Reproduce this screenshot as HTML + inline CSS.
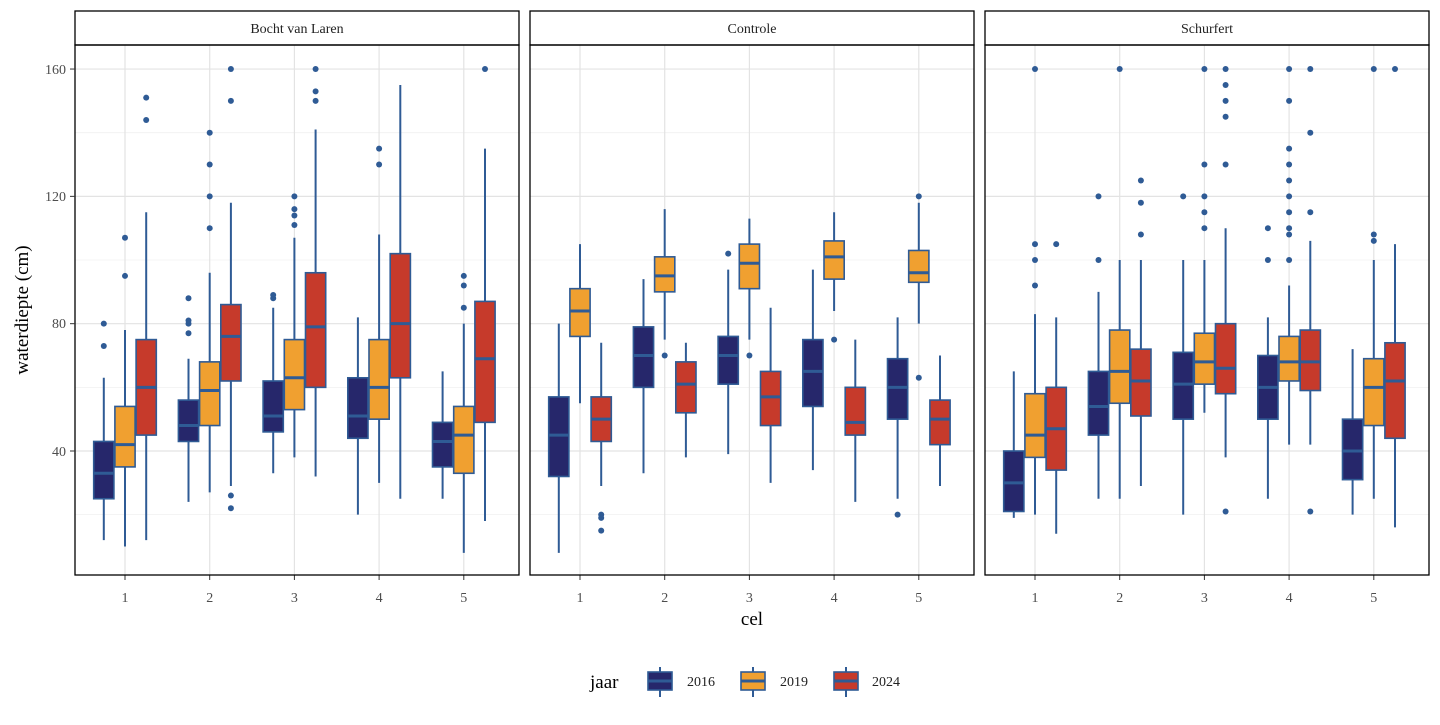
<!DOCTYPE html>
<html><head><meta charset="utf-8"><style>
body{margin:0;background:#fff}
svg text{font-family:"Liberation Serif",serif}
</style></head><body>
<svg id="s" width="1440" height="720" xmlns="http://www.w3.org/2000/svg">
<rect width="1440" height="720" fill="#fff"/>
<g id="grid"></g>
<g id="boxes"></g>
<g id="frames"></g>
<g font-size="14" fill="#222">
<text x="297" y="33" text-anchor="middle">Bocht van Laren</text>
<text x="752" y="33" text-anchor="middle">Controle</text>
<text x="1207" y="33" text-anchor="middle">Schurfert</text>
</g>
<g font-size="14" fill="#4d4d4d" text-anchor="end">
<text x="66" y="456">40</text>
<text x="66" y="328">80</text>
<text x="66" y="201">120</text>
<text x="66" y="74">160</text>
</g>
<g font-size="14" fill="#4d4d4d" text-anchor="middle" id="xl"></g>
<text x="752" y="625" font-size="19" text-anchor="middle">cel</text>
<text transform="translate(28,310) rotate(-90)" font-size="19" text-anchor="middle">waterdiepte (cm)</text>
<text x="590" y="688" font-size="19">jaar</text>
<g id="leg"></g>
<g font-size="14" fill="#222">
<text x="687" y="686">2016</text>
<text x="780" y="686">2019</text>
<text x="872" y="686">2024</text>
</g>
</svg>
<script>
const NS="http://www.w3.org/2000/svg";
function el(p,t,a){const e=document.createElementNS(NS,t);for(const k in a)e.setAttribute(k,a[k]);p.appendChild(e);return e;}
const Y=v=>451-(v-40)*3.183;
const cols=["#26276b","#f0a030","#c63a2b"],bd="#2f5b95";
const panels=[75,530,985],PW=444,PT=45,PB=575;
const D=[
[[[12,25,33,43,63,[73,80]],[10,35,42,54,78,[95,107]],[12,45,60,75,115,[144,151]]],
 [[24,43,48,56,69,[77,80,81,88]],[27,48,59,68,96,[110,120,130,140]],[29,62,76,86,118,[22,26,150,160]]],
 [[33,46,51,62,85,[88,89]],[38,53,63,75,107,[111,114,116,120]],[32,60,79,96,141,[150,153,160]]],
 [[20,44,51,63,82,[]],[30,50,60,75,108,[130,135]],[25,63,80,102,155,[]]],
 [[25,35,43,49,65,[]],[8,33,45,54,80,[85,92,95]],[18,49,69,87,135,[160]]]],
[[[8,32,45,57,80,[]],[55,76,84,91,105,[]],[29,43,50,57,74,[15,19,20]]],
 [[33,60,70,79,94,[]],[75,90,95,101,116,[70]],[38,52,61,68,74,[]]],
 [[39,61,70,76,97,[102]],[75,91,99,105,113,[70]],[30,48,57,65,85,[]]],
 [[34,54,65,75,97,[]],[84,94,101,106,115,[75]],[24,45,49,60,75,[]]],
 [[25,50,60,69,82,[20]],[80,93,96,103,118,[63,120]],[29,42,50,56,70,[]]]],
[[[19,21,30,40,65,[]],[20,38,45,58,83,[92,100,105,160]],[14,34,47,60,82,[105]]],
 [[25,45,54,65,90,[100,120]],[25,55,65,78,100,[160]],[29,51,62,72,100,[108,118,125]]],
 [[20,50,61,71,100,[120]],[52,61,68,77,100,[110,115,120,130,160]],[38,58,66,80,110,[21,130,145,150,155,160]]],
 [[25,50,60,70,82,[100,110]],[42,62,68,76,92,[100,108,110,115,120,125,130,135,150,160]],[42,59,68,78,106,[21,115,140,160]]],
 [[20,31,40,50,72,[]],[25,48,60,69,100,[106,108,160]],[16,44,62,74,105,[160]]]]];
const g=document.getElementById("grid"),b=document.getElementById("boxes"),f=document.getElementById("frames"),xl=document.getElementById("xl");
panels.forEach((px,pi)=>{
 [20,60,100,140].forEach(v=>el(g,"line",{x1:px,x2:px+PW,y1:Y(v),y2:Y(v),stroke:"#f0f0f0","stroke-width":0.8}));
 [40,80,120,160].forEach(v=>el(g,"line",{x1:px,x2:px+PW,y1:Y(v),y2:Y(v),stroke:"#e3e3e3","stroke-width":1.2}));
 for(let c=0;c<5;c++){
  const cx=px+50+c*84.7;
  el(g,"line",{x1:cx,x2:cx,y1:PT,y2:PB,stroke:"#e3e3e3","stroke-width":1.2});
  el(f,"line",{x1:cx,x2:cx,y1:PB,y2:PB+5,stroke:"#333"});
  const t=el(xl,"text",{x:cx,y:602});t.textContent=c+1;
  D[pi][c].forEach((d,j)=>{
   const x=cx+(j-1)*21.2,w=20.2;
   el(b,"line",{x1:x,x2:x,y1:Y(d[0]),y2:Y(d[4]),stroke:bd,"stroke-width":2});
   el(b,"rect",{x:x-w/2,y:Y(d[3]),width:w,height:Y(d[1])-Y(d[3]),fill:cols[j],stroke:bd,"stroke-width":1.6});
   el(b,"line",{x1:x-w/2,x2:x+w/2,y1:Y(d[2]),y2:Y(d[2]),stroke:bd,"stroke-width":3});
   d[5].forEach(o=>el(b,"circle",{cx:x,cy:Y(o),r:3,fill:bd}));
  });
 }
 el(f,"rect",{x:px,y:11,width:PW,height:34,fill:"#fff",stroke:"#000","stroke-width":1.3});
 el(f,"rect",{x:px,y:PT,width:PW,height:PB-PT,fill:"none",stroke:"#000","stroke-width":1.3});
});
[40,80,120,160].forEach(v=>el(f,"line",{x1:70,x2:75,y1:Y(v),y2:Y(v),stroke:"#333"}));
const lg=document.getElementById("leg");
[645,738,831].forEach((x,j)=>{
 el(lg,"line",{x1:x+15,x2:x+15,y1:667,y2:697,stroke:bd,"stroke-width":2});
 el(lg,"rect",{x:x+3,y:672,width:24,height:18,fill:cols[j],stroke:bd,"stroke-width":1.6});
 el(lg,"line",{x1:x+3,x2:x+27,y1:681,y2:681,stroke:bd,"stroke-width":3});
});
</script>
</body></html>
